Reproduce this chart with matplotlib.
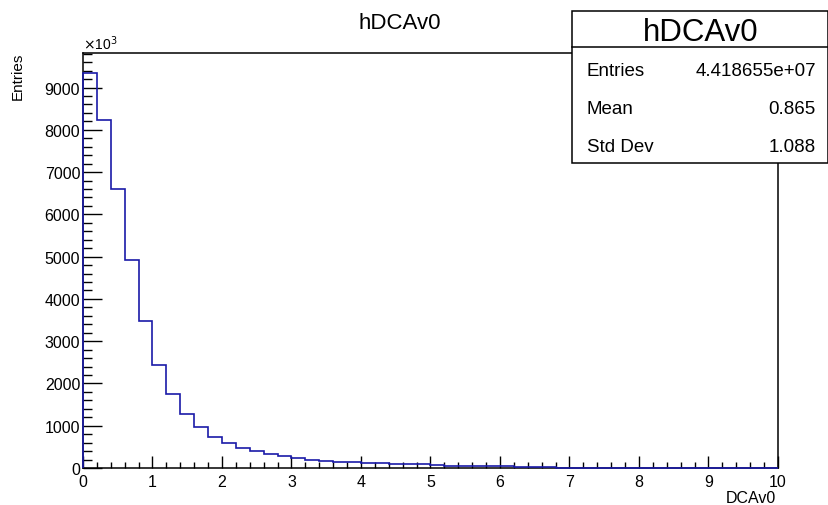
import numpy as np
import matplotlib
matplotlib.use("Agg")
import matplotlib.pyplot as plt
from matplotlib.ticker import MultipleLocator
from matplotlib.patches import Rectangle
from matplotlib.lines import Line2D

plt.rcParams['font.family'] = ['Liberation Sans', 'DejaVu Sans']

# histogram hDCAv0: 50 bins of 0.2 between 0 and 10, contents in units of 10^3
bin_lo, bin_hi, n_bins = 0.0, 10.0, 50
counts_k = [9350, 8226, 6608, 4926, 3466, 2432, 1745, 1279, 971, 742,
            592, 474, 395, 332, 276, 229, 197, 160, 150, 135,
            125, 110, 105, 100, 95, 60, 57, 54, 50, 47,
            44, 14, 13, 12, 11, 10, 10, 9, 9, 8,
            8, 7, 7, 6, 6, 6, 5, 5, 5, 4]

hist_name = "hDCAv0"
x_title = "DCAv0"
y_title = "Entries"
stat_names = ["Entries", "Mean", "Std Dev"]
stat_values = ["4.418655e+07", "0.865", "1.088"]

W, H = 829, 506
fig = plt.figure(figsize=(W / 100, H / 100), dpi=100)
ax = fig.add_axes([83 / W, 1 - 469 / H, (778 - 83) / W, (469 - 54) / H])

edges = np.linspace(bin_lo, bin_hi, n_bins + 1)
# drawn above the frame so the low tail shows along the x axis
ax.stairs(counts_k, edges, color='#1a1aa8', lw=1.2, baseline=0, zorder=3, clip_on=False)

ax.set_xlim(bin_lo, bin_hi)
ax.set_ylim(0, max(counts_k) * 1.05)

ax.xaxis.set_major_locator(MultipleLocator(1))
ax.xaxis.set_minor_locator(MultipleLocator(0.2))
ax.yaxis.set_major_locator(MultipleLocator(1000))
ax.yaxis.set_minor_locator(MultipleLocator(200))

ax.tick_params(axis='both', which='both', direction='in', width=1.0,
               top=False, right=False, labelsize=11.5)
ax.tick_params(axis='x', which='major', length=9, pad=4)
ax.tick_params(axis='x', which='minor', length=4.3)
ax.tick_params(axis='y', which='major', length=13.5, pad=2)
ax.tick_params(axis='y', which='minor', length=6.3)
for s in ax.spines.values():
    s.set_linewidth(1.1)

# titles placed in figure pixels like a ROOT canvas
def fx(px):
    return px / W

def fy(py):
    return 1 - py / H

fig.text(fx(400), fy(29), hist_name, ha='center', va='baseline', fontsize=16)
fig.text(fx(83), fy(50), r"$\times$10$^{3}$", ha='left', va='baseline', fontsize=10)
fig.text(fx(18), fy(53), y_title, rotation=90, ha='center', va='top', fontsize=11)
fig.text(fx(776), fy(503), x_title, ha='right', va='baseline', fontsize=11.5)

# statistics box
box_l, box_r, box_t, box_b, box_sep = 572, 828.5, 12, 164, 48
fig.add_artist(Rectangle((fx(box_l), fy(box_b)), (box_r - box_l) / W, (box_b - box_t) / H,
                         transform=fig.transFigure, facecolor='white',
                         edgecolor='black', lw=1.1, zorder=5))
fig.add_artist(Line2D([fx(box_l), fx(box_r)], [fy(box_sep), fy(box_sep)],
                      transform=fig.transFigure, color='black', lw=1.1, zorder=6))
fig.text(fx(701), fy(41), hist_name, ha='center', va='baseline', fontsize=22.5, zorder=7)
for i, (name, val) in enumerate(zip(stat_names, stat_values)):
    yb = 76 + i * 37.8
    fig.text(fx(587), fy(yb), name, ha='left', va='baseline', fontsize=13.5, zorder=7)
    fig.text(fx(816), fy(yb), val, ha='right', va='baseline', fontsize=13.5, zorder=7)

fig.savefig("out.png", dpi=100)
